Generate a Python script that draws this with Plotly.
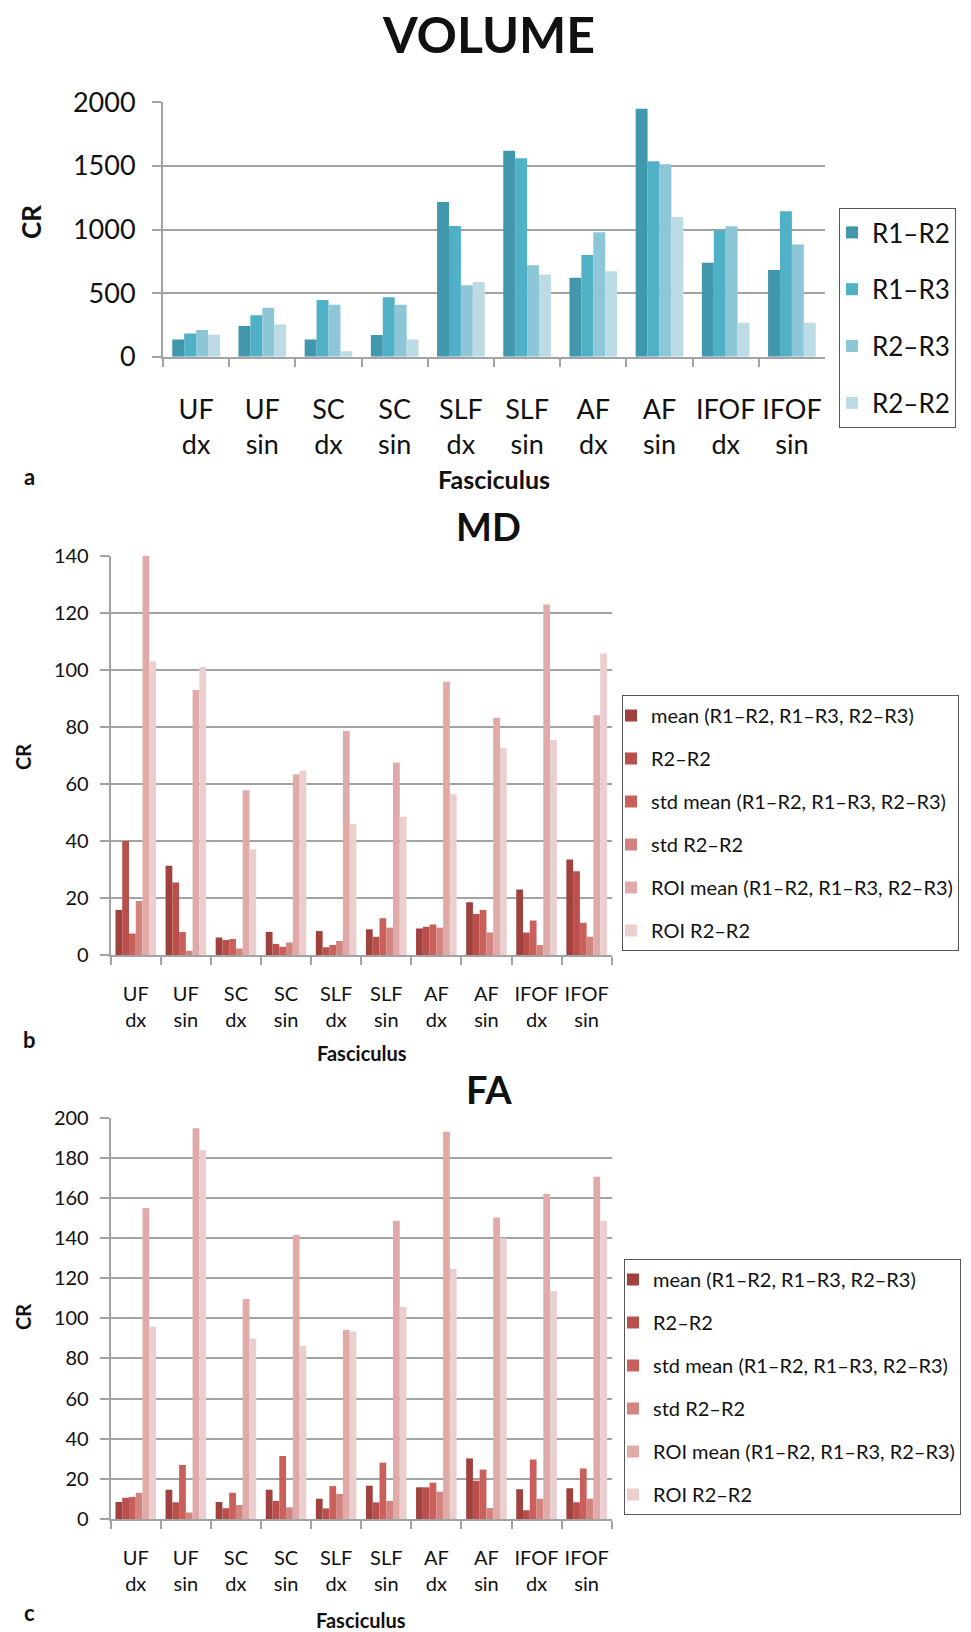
import plotly.graph_objects as go

W, H = 971, 1632

categories = ["UF<br>dx", "UF<br>sin", "SC<br>dx", "SC<br>sin", "SLF<br>dx",
              "SLF<br>sin", "AF<br>dx", "AF<br>sin", "IFOF<br>dx", "IFOF<br>sin"]

# ---- VOLUME ----
vol_names = ["R1–R2", "R1–R3", "R2–R3", "R2–R2"]
vol_r1r2 = [136, 241, 136, 170, 1216, 1620, 621, 1950, 739, 682]
vol_r1r3 = [183, 325, 446, 467, 1028, 1560, 799, 1536, 993, 1143]
vol_r2r3 = [210, 385, 409, 409, 561, 718, 978, 1512, 1025, 883]
vol_r2r2 = [173, 254, 42, 136, 587, 647, 671, 1098, 267, 267]
vol_ticks = [0, 500, 1000, 1500, 2000]

# ---- MD ----
ser_names = ["mean (R1–R2, R1–R3, R2–R3)", "R2–R2", "std mean (R1–R2, R1–R3, R2–R3)",
             "std R2–R2", "ROI mean (R1–R2, R1–R3, R2–R3)", "ROI R2–R2"]
md_mean = [15.8, 31.3, 6.1, 8.1, 8.4, 9.0, 9.3, 18.5, 23.0, 33.5]
md_r2r2 = [40.0, 25.4, 5.3, 3.9, 2.7, 6.4, 9.9, 14.4, 7.9, 29.4]
md_std_mean = [7.5, 8.1, 5.6, 2.9, 3.5, 12.9, 10.7, 15.8, 12.1, 11.3]
md_std_r2r2 = [18.9, 1.5, 2.3, 4.4, 4.9, 9.6, 9.6, 7.9, 3.5, 6.4]
md_roi_mean = [140.0, 92.9, 57.8, 63.4, 78.5, 67.5, 95.8, 83.2, 122.9, 84.1]
md_roi_r2r2 = [103.0, 101.0, 37.1, 64.6, 45.9, 48.5, 56.4, 72.7, 75.5, 105.7]
md_ticks = [0, 20, 40, 60, 80, 100, 120, 140]

# ---- FA ----
fa_mean = [8.5, 14.6, 8.5, 14.6, 10.1, 16.6, 15.8, 30.2, 14.8, 15.3]
fa_r2r2 = [10.6, 8.3, 5.3, 9.0, 5.3, 8.3, 15.8, 19.1, 4.3, 8.3]
fa_std_mean = [11.0, 26.9, 13.1, 31.4, 16.4, 28.1, 18.1, 24.6, 29.7, 25.2]
fa_std_r2r2 = [13.1, 3.3, 7.0, 5.8, 12.5, 9.0, 13.6, 5.5, 10.1, 10.1]
fa_roi_mean = [155.0, 194.7, 109.6, 141.5, 94.2, 148.7, 193.0, 150.3, 162.0, 170.6]
fa_roi_r2r2 = [95.8, 183.9, 90.0, 86.2, 93.4, 105.6, 124.6, 139.9, 113.6, 148.7]
fa_ticks = [0, 20, 40, 60, 80, 100, 120, 140, 160, 180, 200]

vol_colors = ["#4197ac", "#4fb0c6", "#8cc6d7", "#bcdbe5"]
red_colors = ["#a0413e", "#b9504c", "#c9605b", "#d4847f", "#e0aaa9", "#ebcfcf"]

FONT = "Lato"
fig = go.Figure()

def px_x(x):
    return x / W

def px_y(y):
    return 1 - y / H

# Volume bars
vol_series = [vol_r1r2, vol_r1r3, vol_r2r3, vol_r2r2]
bw = 0.18
for i, (n, s) in enumerate(zip(vol_names, vol_series)):
    fig.add_trace(go.Bar(x=categories, y=s, name=n, marker=dict(color=vol_colors[i], line_width=0),
                         width=bw, offset=-0.36 + i * bw, xaxis="x", yaxis="y",
                         legend="legend", legendgroup="v%d" % i))

md_series = [md_mean, md_r2r2, md_std_mean, md_std_r2r2, md_roi_mean, md_roi_r2r2]
fa_series = [fa_mean, fa_r2r2, fa_std_mean, fa_std_r2r2, fa_roi_mean, fa_roi_r2r2]
bw2 = 0.135
for i, (n, s) in enumerate(zip(ser_names, md_series)):
    fig.add_trace(go.Bar(x=categories, y=s, name=n, marker=dict(color=red_colors[i], line_width=0),
                         width=bw2, offset=-0.405 + i * bw2, xaxis="x2", yaxis="y2",
                         legend="legend2", legendgroup="m%d" % i))
for i, (n, s) in enumerate(zip(ser_names, fa_series)):
    fig.add_trace(go.Bar(x=categories, y=s, name=n, marker=dict(color=red_colors[i], line_width=0),
                         width=bw2, offset=-0.405 + i * bw2, xaxis="x3", yaxis="y3",
                         legend="legend3", legendgroup="f%d" % i))

grid = "#a3a3a3"

def xaxis(dom, anchor, size, standoff):
    return dict(domain=dom, anchor=anchor, type="category", tickson="boundaries",
                ticks="outside", ticklen=8, tickwidth=2, tickcolor=grid, tickangle=0,
                showline=True, linecolor=grid, linewidth=2, showgrid=False,
                tickfont=dict(family=FONT, size=size, color="#111"),
                ticklabelstandoff=standoff, fixedrange=True, automargin=False)

def yaxis(dom, anchor, rng, ticks, size, standoff):
    return dict(domain=dom, anchor=anchor, range=rng, tickvals=ticks,
                ticks="outside", ticklen=9, tickwidth=2, tickcolor=grid,
                showline=True, linecolor=grid, linewidth=2,
                showgrid=True, gridcolor=grid, gridwidth=2, zeroline=False,
                tickfont=dict(family=FONT, size=size, color="#111"),
                ticklabelstandoff=standoff, fixedrange=True, automargin=False)

fig.update_layout(
    width=W, height=H, margin=dict(l=0, r=0, t=0, b=0, autoexpand=False),
    paper_bgcolor="white", plot_bgcolor="white",
    barmode="overlay",
    xaxis=xaxis([px_x(163), px_x(825)], "y", 27, 28),
    yaxis=yaxis([px_y(356.7), px_y(102.3)], "x", [0, 2000], vol_ticks, 27, 11),
    xaxis2=xaxis([px_x(110.7), px_x(611.7)], "y2", 20, 20),
    yaxis2=yaxis([px_y(955), px_y(555.7)], "x2", [0, 140], md_ticks, 20, 7),
    xaxis3=xaxis([px_x(110.7), px_x(611.7)], "y3", 20, 20),
    yaxis3=yaxis([px_y(1519), px_y(1117.7)], "x3", [0, 200], fa_ticks, 20, 7),
    legend=dict(x=px_x(839), y=px_y(208), xanchor="left", yanchor="top",
                bordercolor="#555", borderwidth=1, bgcolor="white",
                font=dict(family=FONT, size=26, color="#111"), tracegroupgap=20,
                itemwidth=30, indentation=-8),
    legend2=dict(x=px_x(622), y=px_y(695), xanchor="left", yanchor="top",
                 bordercolor="#555", borderwidth=1, bgcolor="white",
                 font=dict(family=FONT, size=20, color="#111"), tracegroupgap=14,
                 itemwidth=30, indentation=-12),
    legend3=dict(x=px_x(624), y=px_y(1259), xanchor="left", yanchor="top",
                 bordercolor="#555", borderwidth=1, bgcolor="white",
                 font=dict(family=FONT, size=20, color="#111"), tracegroupgap=14,
                 itemwidth=30, indentation=-12),
    showlegend=True,
)

def txt(x, y, t, size, bold=True, angle=0):
    fig.add_annotation(x=px_x(x), y=px_y(y), xref="paper", yref="paper", text=("<b>%s</b>" % t) if bold else t,
                       showarrow=False, xanchor="center", yanchor="middle", textangle=angle,
                       font=dict(family=FONT, size=size, color="#111"))

txt(489, 34, "VOLUME", 50)
txt(31, 222, "CR", 26, angle=-90)
txt(494, 479, "Fasciculus", 25)
txt(29, 476, "a", 22)

txt(489, 526, "MD", 38)
txt(23, 757, "CR", 20, angle=-90)
txt(362, 1053, "Fasciculus", 20)
txt(29, 1039, "b", 22)

txt(489, 1089, "FA", 38)
txt(23, 1317, "CR", 20, angle=-90)
txt(361, 1620, "Fasciculus", 20)
txt(29, 1612, "c", 22)

fig.write_html("out.html", config={"displayModeBar": False},
               post_script="document.body.style.margin='0';document.body.style.padding='0';"
                           "document.body.style.overflow='hidden';")
